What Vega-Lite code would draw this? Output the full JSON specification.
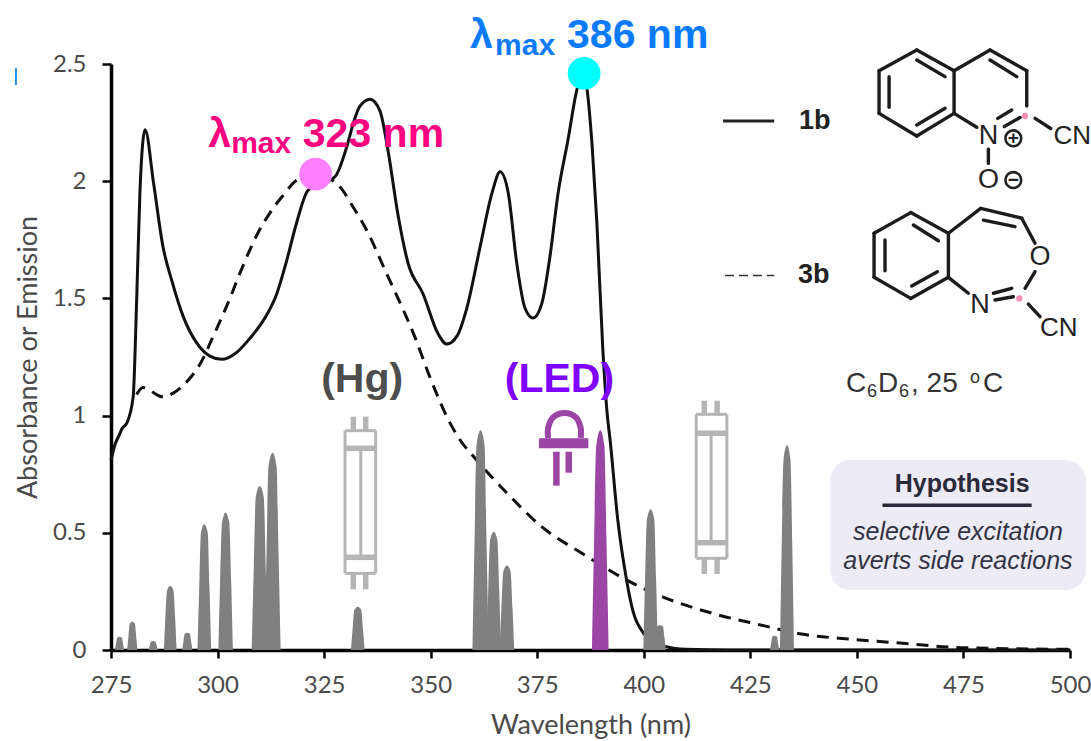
{
"$schema":"https://vega.github.io/schema/vega-lite/v6.json",
"width":959,"height":586,"autosize":"none",
"padding":{"left":111,"top":64,"right":21,"bottom":91},
"background":"white",
"config":{"view":{"stroke":null}},
"datasets":{
"s1b":[{"wavelength":275,"value":0.81},{"wavelength":276,"value":0.88},{"wavelength":277,"value":0.92},{"wavelength":277.6,"value":0.945},{"wavelength":278.7,"value":0.968},{"wavelength":280.2,"value":1.08},{"wavelength":281,"value":1.48},{"wavelength":281.8,"value":1.96},{"wavelength":283,"value":2.22},{"wavelength":285,"value":1.99},{"wavelength":287.2,"value":1.72},{"wavelength":289.2,"value":1.58},{"wavelength":292,"value":1.42},{"wavelength":295.1,"value":1.31},{"wavelength":298.2,"value":1.254},{"wavelength":301,"value":1.24},{"wavelength":304.5,"value":1.27},{"wavelength":307.6,"value":1.33},{"wavelength":311.1,"value":1.416},{"wavelength":313.9,"value":1.52},{"wavelength":316.2,"value":1.66},{"wavelength":318.6,"value":1.826},{"wavelength":321.2,"value":1.96},{"wavelength":327.6,"value":2.02},{"wavelength":330.3,"value":2.146},{"wavelength":331.9,"value":2.25},{"wavelength":333.4,"value":2.32},{"wavelength":335.8,"value":2.35},{"wavelength":338.1,"value":2.3},{"wavelength":340,"value":2.13},{"wavelength":342.3,"value":1.86},{"wavelength":344.7,"value":1.65},{"wavelength":348.2,"value":1.52},{"wavelength":351.7,"value":1.35},{"wavelength":353.8,"value":1.305},{"wavelength":356.2,"value":1.34},{"wavelength":358.5,"value":1.46},{"wavelength":361.6,"value":1.72},{"wavelength":364.4,"value":1.95},{"wavelength":366.3,"value":2.04},{"wavelength":368.2,"value":1.95},{"wavelength":370.2,"value":1.65},{"wavelength":372.1,"value":1.46},{"wavelength":374,"value":1.416},{"wavelength":376.1,"value":1.48},{"wavelength":378,"value":1.68},{"wavelength":379.9,"value":1.95},{"wavelength":382.2,"value":2.175},{"wavelength":384.3,"value":2.39},{"wavelength":385.8,"value":2.47},{"wavelength":386.7,"value":2.39},{"wavelength":387.9,"value":2.146},{"wavelength":389,"value":1.82},{"wavelength":390.4,"value":1.28},{"wavelength":391.4,"value":1.01},{"wavelength":392.1,"value":0.896},{"wavelength":393.9,"value":0.555},{"wavelength":395.9,"value":0.305},{"wavelength":397.2,"value":0.185},{"wavelength":400,"value":0.07},{"wavelength":403,"value":0.03},{"wavelength":405,"value":0.015},{"wavelength":410,"value":0.003},{"wavelength":420,"value":0},{"wavelength":500,"value":0}],
"s3b":[{"wavelength":281,"value":1.09},{"wavelength":282.5,"value":1.12},{"wavelength":287.2,"value":1.08},{"wavelength":289.6,"value":1.096},{"wavelength":292.8,"value":1.145},{"wavelength":295.9,"value":1.22},{"wavelength":298.9,"value":1.335},{"wavelength":302.9,"value":1.5},{"wavelength":305.3,"value":1.61},{"wavelength":309.5,"value":1.78},{"wavelength":312.3,"value":1.865},{"wavelength":315.4,"value":1.94},{"wavelength":318.6,"value":2.005},{"wavelength":323,"value":2.03},{"wavelength":328.5,"value":1.98},{"wavelength":331.8,"value":1.89},{"wavelength":335.3,"value":1.78},{"wavelength":339.3,"value":1.62},{"wavelength":342.1,"value":1.51},{"wavelength":346.3,"value":1.335},{"wavelength":349.8,"value":1.165},{"wavelength":354.5,"value":0.97},{"wavelength":356.9,"value":0.896},{"wavelength":360.3,"value":0.82},{"wavelength":368.4,"value":0.66},{"wavelength":376.1,"value":0.525},{"wavelength":386.2,"value":0.405},{"wavelength":395.8,"value":0.3},{"wavelength":404.4,"value":0.227},{"wavelength":416,"value":0.157},{"wavelength":427.4,"value":0.107},{"wavelength":437,"value":0.068},{"wavelength":448.5,"value":0.046},{"wavelength":460.1,"value":0.03},{"wavelength":474.5,"value":0.01},{"wavelength":500,"value":0.003}],
"hg":[
{"peak":"a","wavelength":275.9,"value":0},{"peak":"a","wavelength":276.2,"value":0.03},{"peak":"a","wavelength":276.45,"value":0.053},{"peak":"a","wavelength":277,"value":0.057},{"peak":"a","wavelength":277.55,"value":0.053},{"peak":"a","wavelength":277.8,"value":0.03},{"peak":"a","wavelength":278.1,"value":0},
{"peak":"b","wavelength":278.8,"value":0},{"peak":"b","wavelength":279.1,"value":0.06},{"peak":"b","wavelength":279.4,"value":0.112},{"peak":"b","wavelength":280,"value":0.12},{"peak":"b","wavelength":280.6,"value":0.112},{"peak":"b","wavelength":280.9,"value":0.06},{"peak":"b","wavelength":281.2,"value":0},
{"peak":"c","wavelength":283.8,"value":0},{"peak":"c","wavelength":284.1,"value":0.02},{"peak":"c","wavelength":284.35,"value":0.035},{"peak":"c","wavelength":284.9,"value":0.038},{"peak":"c","wavelength":285.45,"value":0.035},{"peak":"c","wavelength":285.7,"value":0.02},{"peak":"c","wavelength":286,"value":0},
{"peak":"d","wavelength":287.4,"value":0},{"peak":"d","wavelength":287.75,"value":0.137},{"peak":"d","wavelength":288.15,"value":0.254},{"peak":"d","wavelength":288.9,"value":0.273},{"peak":"d","wavelength":289.65,"value":0.254},{"peak":"d","wavelength":290.05,"value":0.137},{"peak":"d","wavelength":290.4,"value":0},
{"peak":"e","wavelength":291.7,"value":0},{"peak":"e","wavelength":292,"value":0.037},{"peak":"e","wavelength":292.3,"value":0.069},{"peak":"e","wavelength":292.9,"value":0.074},{"peak":"e","wavelength":293.5,"value":0.069},{"peak":"e","wavelength":293.8,"value":0.037},{"peak":"e","wavelength":294.1,"value":0},
{"peak":"f","wavelength":295.3,"value":0},{"peak":"f","wavelength":295.7,"value":0.27},{"peak":"f","wavelength":296.1,"value":0.5},{"peak":"f","wavelength":296.9,"value":0.537},{"peak":"f","wavelength":297.7,"value":0.5},{"peak":"f","wavelength":298.1,"value":0.27},{"peak":"f","wavelength":298.5,"value":0},
{"peak":"g","wavelength":300.2,"value":0},{"peak":"g","wavelength":300.6,"value":0.293},{"peak":"g","wavelength":301.05,"value":0.545},{"peak":"g","wavelength":301.9,"value":0.586},{"peak":"g","wavelength":302.75,"value":0.545},{"peak":"g","wavelength":303.2,"value":0.293},{"peak":"g","wavelength":303.6,"value":0},
{"peak":"h","wavelength":308,"value":0},{"peak":"h","wavelength":308.5,"value":0.35},{"peak":"h","wavelength":308.95,"value":0.651},{"peak":"h","wavelength":309.9,"value":0.7},{"peak":"h","wavelength":310.85,"value":0.651},{"peak":"h","wavelength":311.3,"value":0.35},{"peak":"h","wavelength":311.8,"value":0},
{"peak":"i","wavelength":311,"value":0},{"peak":"i","wavelength":311.5,"value":0.421},{"peak":"i","wavelength":311.95,"value":0.783},{"peak":"i","wavelength":312.9,"value":0.842},{"peak":"i","wavelength":313.85,"value":0.783},{"peak":"i","wavelength":314.3,"value":0.421},{"peak":"i","wavelength":314.8,"value":0},
{"peak":"j","wavelength":331.3,"value":0},{"peak":"j","wavelength":331.7,"value":0.093},{"peak":"j","wavelength":332.1,"value":0.172},{"peak":"j","wavelength":332.9,"value":0.185},{"peak":"j","wavelength":333.7,"value":0.172},{"peak":"j","wavelength":334.1,"value":0.093},{"peak":"j","wavelength":334.5,"value":0},
{"peak":"k","wavelength":359.8,"value":0},{"peak":"k","wavelength":360.3,"value":0.469},{"peak":"k","wavelength":360.75,"value":0.872},{"peak":"k","wavelength":361.7,"value":0.938},{"peak":"k","wavelength":362.65,"value":0.872},{"peak":"k","wavelength":363.1,"value":0.469},{"peak":"k","wavelength":363.6,"value":0},
{"peak":"l","wavelength":363.1,"value":0},{"peak":"l","wavelength":363.5,"value":0.253},{"peak":"l","wavelength":363.95,"value":0.47},{"peak":"l","wavelength":364.8,"value":0.505},{"peak":"l","wavelength":365.65,"value":0.47},{"peak":"l","wavelength":366.1,"value":0.253},{"peak":"l","wavelength":366.5,"value":0},
{"peak":"m","wavelength":366.2,"value":0},{"peak":"m","wavelength":366.6,"value":0.18},{"peak":"m","wavelength":367.05,"value":0.335},{"peak":"m","wavelength":367.9,"value":0.36},{"peak":"m","wavelength":368.75,"value":0.335},{"peak":"m","wavelength":369.2,"value":0.18},{"peak":"m","wavelength":369.6,"value":0},
{"peak":"n","wavelength":399.9,"value":0},{"peak":"n","wavelength":400.3,"value":0.3},{"peak":"n","wavelength":400.75,"value":0.558},{"peak":"n","wavelength":401.6,"value":0.6},{"peak":"n","wavelength":402.45,"value":0.558},{"peak":"n","wavelength":402.9,"value":0.3},{"peak":"n","wavelength":403.3,"value":0},
{"peak":"o","wavelength":402.4,"value":0},{"peak":"o","wavelength":402.75,"value":0.054},{"peak":"o","wavelength":403.1,"value":0.1},{"peak":"o","wavelength":403.8,"value":0.107},{"peak":"o","wavelength":404.5,"value":0.1},{"peak":"o","wavelength":404.85,"value":0.054},{"peak":"o","wavelength":405.2,"value":0},
{"peak":"p","wavelength":429.6,"value":0},{"peak":"p","wavelength":429.9,"value":0.03},{"peak":"p","wavelength":430.15,"value":0.057},{"peak":"p","wavelength":430.7,"value":0.061},{"peak":"p","wavelength":431.25,"value":0.057},{"peak":"p","wavelength":431.5,"value":0.03},{"peak":"p","wavelength":431.8,"value":0},
{"peak":"q","wavelength":431.95,"value":0},{"peak":"q","wavelength":432.35,"value":0.438},{"peak":"q","wavelength":432.8,"value":0.814},{"peak":"q","wavelength":433.6,"value":0.875},{"peak":"q","wavelength":434.4,"value":0.814},{"peak":"q","wavelength":434.85,"value":0.438},{"peak":"q","wavelength":435.25,"value":0}],
"led":[{"wavelength":387.85,"value":0},{"wavelength":388.35,"value":0.469},{"wavelength":388.85,"value":0.872},{"wavelength":389.8,"value":0.938},{"wavelength":390.75,"value":0.872},{"wavelength":391.25,"value":0.469},{"wavelength":391.75,"value":0}],
"lampThin":[
{"wavelength":329.9,"value":0.9357,"wavelength2":337.1,"value2":0.9357},{"wavelength":329.9,"value":0.327,"wavelength2":337.1,"value2":0.327},{"wavelength":329.9,"value":0.9357,"wavelength2":329.9,"value2":0.327},{"wavelength":337.1,"value":0.9357,"wavelength2":337.1,"value2":0.327},{"wavelength":333.6,"value":0.8604,"wavelength2":333.6,"value2":0.3954},
{"wavelength":412.3,"value":1.0055,"wavelength2":419.5,"value2":1.0055},{"wavelength":412.3,"value":0.3912,"wavelength2":419.5,"value2":0.3912},{"wavelength":412.3,"value":1.0055,"wavelength2":412.3,"value2":0.3912},{"wavelength":419.5,"value":1.0055,"wavelength2":419.5,"value2":0.3912},{"wavelength":415.8,"value":0.9247,"wavelength2":415.8,"value2":0.4577}],
"lampThick":[
{"wavelength":329.9,"value":0.8604,"wavelength2":337.1,"value2":0.8604},{"wavelength":329.9,"value":0.3954,"wavelength2":337.1,"value2":0.3954},{"wavelength":331.85,"value":0.9954,"wavelength2":331.85,"value2":0.9357},{"wavelength":334.76,"value":0.9954,"wavelength2":334.76,"value2":0.9357},{"wavelength":331.85,"value":0.327,"wavelength2":331.85,"value2":0.2589},{"wavelength":334.76,"value":0.327,"wavelength2":334.76,"value2":0.2589},
{"wavelength":412.3,"value":0.9247,"wavelength2":419.5,"value2":0.9247},{"wavelength":412.3,"value":0.4577,"wavelength2":419.5,"value2":0.4577},{"wavelength":414.2,"value":1.0636,"wavelength2":414.2,"value2":1.0055},{"wavelength":417.2,"value":1.0636,"wavelength2":417.2,"value2":1.0055},{"wavelength":414.2,"value":0.3912,"wavelength2":414.2,"value2":0.3242},{"wavelength":417.2,"value":0.3912,"wavelength2":417.2,"value2":0.3242}],
"ledLegs":[{"wavelength":379.5,"value":0.846,"wavelength2":379.5,"value2":0.701},{"wavelength":382.4,"value":0.846,"wavelength2":382.4,"value2":0.7564}],
"ledDome":[{"wavelength":377.56,"value":0.9044},{"wavelength":377.56,"value":0.947},{"wavelength":378.7,"value":0.992},{"wavelength":381.4,"value":1.011},{"wavelength":384.1,"value":0.992},{"wavelength":385.2,"value":0.947},{"wavelength":385.2,"value":0.9044}],
"ledBase":[{"wavelength":375.4,"value":0.9032,"wavelength2":387,"value2":0.8605}],
"box":[{"wavelength":443.75,"value":0.8106,"wavelength2":503.7,"value2":0.256}],
"underline":[{"wavelength":456,"value":0.6173,"wavelength2":491,"value2":0.6173}],
"legendSolid":[{"wavelength":418.6,"value":2.257,"wavelength2":430.6,"value2":2.257}],
"legendDash":[{"wavelength":419.06,"value":1.598,"wavelength2":430.6,"value2":1.598}],
"sliver":[{"wavelength":252.7,"value":2.483,"wavelength2":252.7,"value2":2.41}],
"bonds":[
{"wavelength":455.2,"value":2.4715,"wavelength2":464.04,"value2":2.5597},{"wavelength":464.04,"value":2.5597,"wavelength2":472.8,"value2":2.4715},{"wavelength":472.8,"value":2.4715,"wavelength2":472.8,"value2":2.2895},{"wavelength":472.8,"value":2.2895,"wavelength2":464.04,"value2":2.1928},{"wavelength":464.04,"value":2.1928,"wavelength2":455.2,"value2":2.2895},{"wavelength":455.2,"value":2.2895,"wavelength2":455.2,"value2":2.4715},{"wavelength":472.8,"value":2.4715,"wavelength2":481.24,"value2":2.5597},{"wavelength":481.24,"value":2.5597,"wavelength2":489.85,"value2":2.4715},{"wavelength":489.85,"value":2.4715,"wavelength2":489.85,"value2":2.3208},
{"wavelength":464.04,"value":2.517,"wavelength2":470.69,"value2":2.446},{"wavelength":457.55,"value":2.446,"wavelength2":457.55,"value2":2.315},{"wavelength":464.04,"value":2.24,"wavelength2":470.69,"value2":2.311},{"wavelength":481.24,"value":2.517,"wavelength2":487.5,"value2":2.446},{"wavelength":472.8,"value":2.2895,"wavelength2":478.12,"value2":2.23},{"wavelength":483.04,"value":2.268,"wavelength2":486.33,"value2":2.304},{"wavelength":484.6,"value":2.233,"wavelength2":488.28,"value2":2.272},{"wavelength":480.85,"value":2.136,"wavelength2":480.85,"value2":2.076},{"wavelength":491.8,"value":2.268,"wavelength2":495.48,"value2":2.225},
{"wavelength":454.03,"value":1.778,"wavelength2":462.63,"value2":1.866},{"wavelength":462.63,"value":1.866,"wavelength2":471.47,"value2":1.778},{"wavelength":471.47,"value":1.778,"wavelength2":471.47,"value2":1.59},{"wavelength":471.47,"value":1.59,"wavelength2":462.63,"value2":1.5},{"wavelength":462.63,"value":1.5,"wavelength2":454.03,"value2":1.59},{"wavelength":454.03,"value":1.59,"wavelength2":454.03,"value2":1.778},{"wavelength":463.25,"value":1.813,"wavelength2":469.12,"value2":1.746},{"wavelength":456.6,"value":1.749,"wavelength2":456.6,"value2":1.618},{"wavelength":462.86,"value":1.553,"wavelength2":468.89,"value2":1.614},{"wavelength":471.47,"value":1.778,"wavelength2":479.05,"value2":1.884},{"wavelength":479.05,"value":1.884,"wavelength2":488.67,"value2":1.842},{"wavelength":479.68,"value":1.834,"wavelength2":487.1,"value2":1.806},{"wavelength":488.67,"value":1.842,"wavelength2":491.8,"value2":1.735},{"wavelength":491.8,"value":1.614,"wavelength2":489.45,"value2":1.543},{"wavelength":490.24,"value":1.476,"wavelength2":492.97,"value2":1.422},{"wavelength":471.47,"value":1.59,"wavelength2":476.16,"value2":1.522},{"wavelength":482.03,"value":1.522,"wavelength2":486.33,"value2":1.543},{"wavelength":482.4,"value":1.493,"wavelength2":486.7,"value2":1.507}],
"atoms":[{"wavelength":480.85,"value":2.193,"label":"N"},{"wavelength":480.85,"value":2.005,"label":"O"},{"wavelength":492.97,"value":1.675,"label":"O"},{"wavelength":478.9,"value":1.472,"label":"N"}],
"cn":[{"wavelength":496.1,"value":2.193,"label":"CN"},{"wavelength":492.97,"value":1.372,"label":"CN"}],
"charges":[{"wavelength":486.7,"value":2.183,"label":"+"},{"wavelength":486.7,"value":2.005,"label":"−"}],
"dots":[{"wavelength":489.45,"value":2.278},{"wavelength":488.1,"value":1.5}],
"pinkBig":[{"wavelength":297.8,"value":2.146,"label":"λ"},{"wavelength":320,"value":2.146,"label":"323 nm"}],
"pinkSub":[{"wavelength":303.2,"value":2.12,"label":"max"}],
"blueBig":[{"wavelength":359.2,"value":2.568,"label":"λ"},{"wavelength":382,"value":2.568,"label":"386 nm"}],
"blueSub":[{"wavelength":365.1,"value":2.538,"label":"max"}],
"hgLabel":[{"wavelength":324.3,"value":1.1,"label":"(Hg)"}],
"ledLabel":[{"wavelength":367.4,"value":1.1,"label":"(LED)"}],
"legendLabels":[{"wavelength":436.4,"value":2.223,"label":"1b"},{"wavelength":436.2,"value":1.566,"label":"3b"}],
"solvent":[{"wavelength":447.45,"value":1.102,"label":"C"},{"wavelength":454.96,"value":1.102,"label":"D"},{"wavelength":462.7,"value":1.102,"label":", 25"},{"wavelength":479.6,"value":1.102,"label":"C"}],
"solventSub":[{"wavelength":452.4,"value":1.079,"label":"6"},{"wavelength":459.9,"value":1.079,"label":"6"}],
"solventSup":[{"wavelength":476.55,"value":1.139,"label":"o"}],
"hyp":[{"wavelength":474.7,"value":0.6753,"label":"Hypothesis"}],
"hypBody":[{"wavelength":473.7,"value":0.4693,"label":"selective excitation"},{"wavelength":473.7,"value":0.3456,"label":"averts side reactions"}],
"maxPink":[{"wavelength":323,"value":2.03}],
"maxCyan":[{"wavelength":386,"value":2.46}]
},
"encoding":{
"x":{"field":"wavelength","type":"quantitative","scale":{"domain":[275,500],"nice":false,"zero":false},"axis":{"title":"Wavelength (nm)","values":[275,300,325,350,375,400,425,450,475,500],"grid":false,"labelFlush":false,"labelOverlap":false,"domainColor":"#000","domainWidth":3.5,"tickColor":"#000","tickWidth":2.5,"tickSize":8,"labelFont":"Lato","labelFontSize":24,"labelColor":"#4a4a4a","labelPadding":15,"titleFont":"Lato","titleFontSize":27,"titleFontWeight":"normal","titleColor":"#4a4a4a","titlePadding":15}},
"y":{"field":"value","type":"quantitative","scale":{"domain":[0,2.5],"nice":false,"zero":true},"axis":{"title":"Absorbance or Emission","values":[0,0.5,1,1.5,2,2.5],"format":"~g","grid":false,"labelFlush":false,"labelOverlap":false,"domainColor":"#000","domainWidth":3.5,"tickColor":"#000","tickWidth":2.5,"tickSize":9,"labelFont":"Lato","labelFontSize":24,"labelColor":"#4a4a4a","labelPadding":16,"titleFont":"Lato","titleFontSize":27,"titleFontWeight":"normal","titleColor":"#4a4a4a","titlePadding":10}}
},
"layer":[
{"data":{"name":"box"},"mark":{"type":"rect","color":"#ecebf6","cornerRadius":20},"encoding":{"x2":{"field":"wavelength2"},"y2":{"field":"value2"}}},
{"data":{"name":"s3b"},"mark":{"type":"line","color":"#111","strokeWidth":3,"strokeDash":[12,8],"interpolate":"monotone"}},
{"data":{"name":"s1b"},"mark":{"type":"line","color":"#111","strokeWidth":3,"interpolate":"monotone"}},
{"data":{"name":"hg"},"mark":{"type":"area","color":"#808080","interpolate":"monotone"},"encoding":{"detail":{"field":"peak"},"y":{"field":"value","type":"quantitative","stack":null}}},
{"data":{"name":"led"},"mark":{"type":"area","color":"#9b45a5","interpolate":"monotone"},"encoding":{"y":{"field":"value","type":"quantitative","stack":null}}},
{"data":{"name":"lampThin"},"mark":{"type":"rule","color":"#b5b5b5","strokeWidth":3},"encoding":{"x2":{"field":"wavelength2"},"y2":{"field":"value2"}}},
{"data":{"name":"lampThick"},"mark":{"type":"rule","color":"#b5b5b5","strokeWidth":5.5},"encoding":{"x2":{"field":"wavelength2"},"y2":{"field":"value2"}}},
{"data":{"name":"ledLegs"},"mark":{"type":"rule","color":"#9b45a5","strokeWidth":6.5},"encoding":{"x2":{"field":"wavelength2"},"y2":{"field":"value2"}}},
{"data":{"name":"ledDome"},"mark":{"type":"line","color":"#9b45a5","strokeWidth":6,"interpolate":"cardinal"}},
{"data":{"name":"ledBase"},"mark":{"type":"rect","color":"#9b45a5"},"encoding":{"x2":{"field":"wavelength2"},"y2":{"field":"value2"}}},
{"data":{"name":"underline"},"mark":{"type":"rule","color":"#2a2a3a","strokeWidth":3.5},"encoding":{"x2":{"field":"wavelength2"},"y2":{"field":"value2"}}},
{"data":{"name":"legendSolid"},"mark":{"type":"rule","color":"#222","strokeWidth":3},"encoding":{"x2":{"field":"wavelength2"},"y2":{"field":"value2"}}},
{"data":{"name":"legendDash"},"mark":{"type":"rule","color":"#333","strokeWidth":1.6,"strokeDash":[9,5]},"encoding":{"x2":{"field":"wavelength2"},"y2":{"field":"value2"}}},
{"data":{"name":"sliver"},"mark":{"type":"rule","color":"#2a8fe8","strokeWidth":2},"encoding":{"x2":{"field":"wavelength2"},"y2":{"field":"value2"}}},
{"data":{"name":"bonds"},"mark":{"type":"rule","color":"#1c1c1c","strokeWidth":3.4,"strokeCap":"round"},"encoding":{"x2":{"field":"wavelength2"},"y2":{"field":"value2"}}},
{"data":{"name":"dots"},"mark":{"type":"point","shape":"circle","filled":true,"opacity":1,"color":"#f48fb6","size":40}},
{"data":{"name":"charges"},"mark":{"type":"point","shape":"circle","filled":false,"opacity":1,"color":"#222","strokeWidth":2.6,"size":250}},
{"data":{"name":"charges"},"mark":{"type":"text","font":"Liberation Sans","fontWeight":"bold","fontSize":19,"color":"#222","align":"center","baseline":"middle"},"encoding":{"text":{"field":"label"}}},
{"data":{"name":"atoms"},"mark":{"type":"text","font":"Liberation Sans","fontSize":27,"color":"#222","align":"center","baseline":"middle"},"encoding":{"text":{"field":"label"}}},
{"data":{"name":"cn"},"mark":{"type":"text","font":"Liberation Sans","fontSize":26,"color":"#222","align":"left","baseline":"middle"},"encoding":{"text":{"field":"label"}}},
{"data":{"name":"legendLabels"},"mark":{"type":"text","font":"Liberation Sans","fontWeight":"bold","fontSize":27,"color":"#222","align":"left","baseline":"alphabetic"},"encoding":{"text":{"field":"label"}}},
{"data":{"name":"solvent"},"mark":{"type":"text","font":"Liberation Sans","fontSize":28,"color":"#333","align":"left","baseline":"alphabetic"},"encoding":{"text":{"field":"label"}}},
{"data":{"name":"solventSub"},"mark":{"type":"text","font":"Liberation Sans","fontSize":18,"color":"#333","align":"left","baseline":"alphabetic"},"encoding":{"text":{"field":"label"}}},
{"data":{"name":"solventSup"},"mark":{"type":"text","font":"Liberation Sans","fontSize":18,"color":"#333","align":"left","baseline":"alphabetic"},"encoding":{"text":{"field":"label"}}},
{"data":{"name":"hyp"},"mark":{"type":"text","font":"Liberation Sans","fontWeight":"bold","fontSize":25,"color":"#2a2a3a","align":"center","baseline":"alphabetic"},"encoding":{"text":{"field":"label"}}},
{"data":{"name":"hypBody"},"mark":{"type":"text","font":"Liberation Sans","fontStyle":"italic","fontSize":25,"color":"#333344","align":"center","baseline":"alphabetic"},"encoding":{"text":{"field":"label"}}},
{"data":{"name":"pinkBig"},"mark":{"type":"text","font":"Liberation Sans","fontWeight":"bold","fontSize":41,"color":"#ff0080","align":"left","baseline":"alphabetic"},"encoding":{"text":{"field":"label"}}},
{"data":{"name":"pinkSub"},"mark":{"type":"text","font":"Liberation Sans","fontWeight":"bold","fontSize":30,"color":"#ff0080","align":"left","baseline":"alphabetic"},"encoding":{"text":{"field":"label"}}},
{"data":{"name":"blueBig"},"mark":{"type":"text","font":"Liberation Sans","fontWeight":"bold","fontSize":41,"color":"#0a7bff","align":"left","baseline":"alphabetic"},"encoding":{"text":{"field":"label"}}},
{"data":{"name":"blueSub"},"mark":{"type":"text","font":"Liberation Sans","fontWeight":"bold","fontSize":30,"color":"#0a7bff","align":"left","baseline":"alphabetic"},"encoding":{"text":{"field":"label"}}},
{"data":{"name":"hgLabel"},"mark":{"type":"text","font":"Liberation Sans","fontWeight":"bold","fontSize":41,"color":"#4d4d4d","align":"left","baseline":"alphabetic"},"encoding":{"text":{"field":"label"}}},
{"data":{"name":"ledLabel"},"mark":{"type":"text","font":"Liberation Sans","fontWeight":"bold","fontSize":41,"color":"#8000ff","align":"left","baseline":"alphabetic"},"encoding":{"text":{"field":"label"}}},
{"data":{"name":"maxPink"},"mark":{"type":"point","shape":"circle","filled":true,"opacity":1,"color":"#ff80ff","size":1075}},
{"data":{"name":"maxCyan"},"mark":{"type":"point","shape":"circle","filled":true,"opacity":1,"color":"#00ffff","size":1075}}
]
}
